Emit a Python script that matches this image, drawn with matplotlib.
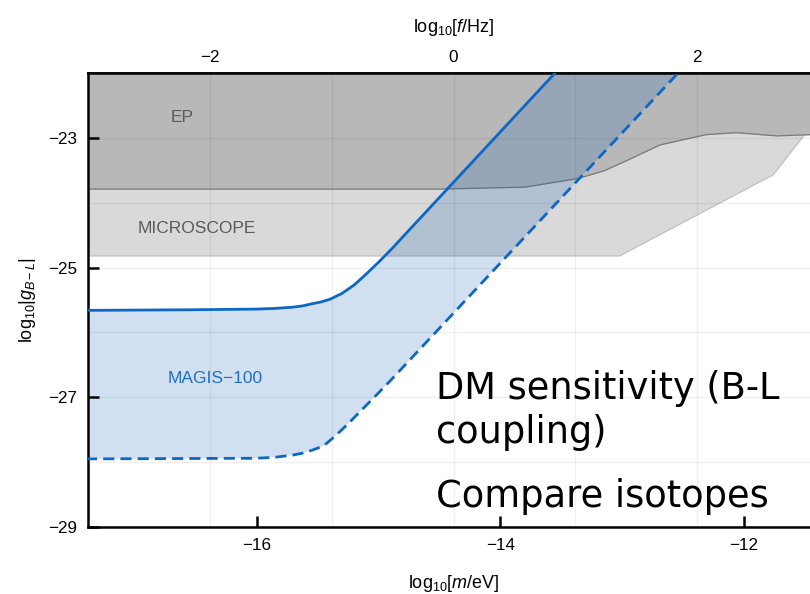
import numpy as np
import matplotlib
matplotlib.use('Agg')
import matplotlib.pyplot as plt

plt.rcParams['font.family'] = ['Liberation Sans', 'DejaVu Sans']
plt.rcParams['mathtext.fontset'] = 'custom'
plt.rcParams['mathtext.rm'] = 'Liberation Sans'
plt.rcParams['mathtext.it'] = 'Liberation Sans:italic'

# log10(f/Hz) = log10(m/eV) + log10(eV/h)
HZ_PER_EV = np.log10(2.418e14)

# EP bound (upper excluded region)
ep_m = [-17.4, -14.5, -13.8, -13.37, -13.15, -12.96, -12.69, -12.31, -12.06, -11.73, -11.3]
ep_g = [-23.79, -23.79, -23.76, -23.63, -23.51, -23.35, -23.11, -22.95, -22.92, -22.97, -22.94]

# MICROSCOPE bound
micro_m = [-17.4, -13.02, -11.76, -11.51, -11.3]
micro_g = [-24.82, -24.82, -23.57, -22.97, -22.4]

# MAGIS-100, solid (upper) curve
magis_m = [-17.4, -16.5, -16.0, -15.85, -15.7, -15.62, -15.55, -15.47, -15.4, -15.3,
           -15.2, -15.1, -15.0, -14.9, -13.55]
magis_g = [-25.66, -25.65, -25.64, -25.63, -25.61, -25.59, -25.56, -25.53, -25.49, -25.40,
           -25.27, -25.10, -24.92, -24.73, -22.0]

# MAGIS-100, dashed (lower) curve
dash_m = [-17.4, -16.0, -15.85, -15.7, -15.62, -15.55, -15.45, -15.35, -15.25, -15.15,
          -15.05, -14.9, -12.54]
dash_g = [-27.95, -27.94, -27.925, -27.89, -27.86, -27.82, -27.75, -27.59, -27.41, -27.22,
          -27.03, -26.74, -22.0]

x_ticks = [-16, -14, -12]
y_ticks = [-29, -27, -25, -23]
f_ticks = [-2, 0, 2]

blue = '#0c67c6'

fig = plt.figure(figsize=(8.1, 5.94), dpi=100)
# right spine sits just past the right edge of the picture
ax = fig.add_axes([88 / 810, 67 / 594, 731 / 810, 454 / 594])

ax.set_xlim(-3 - HZ_PER_EV, 3 - HZ_PER_EV)
ax.set_ylim(-29, -22)

# excluded regions
ax.fill_between(micro_m, micro_g, -22, color='#d9d9d9', lw=0, zorder=0.5)
ax.plot(micro_m, micro_g, color='#bdbdbd', lw=0.7, zorder=0.6)
ax.fill_between(ep_m, ep_g, -22, color='#b8b8b8', lw=0, zorder=0.7)
ax.plot(ep_m, ep_g, color='#7a7a7a', lw=0.9, zorder=0.8)

# MAGIS band, translucent on top of the grey
poly_m = magis_m + dash_m[::-1]
poly_g = magis_g + dash_g[::-1]
ax.fill(poly_m, poly_g, color='#0055b0', alpha=0.18, lw=0, zorder=1)

ax.plot(magis_m, magis_g, color=blue, lw=2.0, zorder=3)
ax.plot(dash_m, dash_g, color=blue, lw=2.0, ls=(0, (4, 2.2)), zorder=3)

ax.text(-16.61, -22.68, 'EP', color='#5a5a5a', fontsize=12.5, ha='center', va='center', zorder=4)
ax.text(-16.49, -24.39, 'MICROSCOPE', color='#5a5a5a', fontsize=12.5, ha='center', va='center', zorder=4)
ax.text(-16.34, -26.71, 'MAGIS\u2212100', color='#1f6fc5', fontsize=12.5, ha='center', va='center', zorder=4)

# ticks and grid
ax.set_xticks(x_ticks)
ax.set_yticks(y_ticks)
ax.set_xticks([f - HZ_PER_EV for f in range(-3, 4)], minor=True)
ax.set_yticks(range(-29, -21), minor=True)
ax.set_axisbelow('line')
ax.grid(which='minor', axis='x', color='black', alpha=0.06, lw=1.0)
ax.grid(which='both', axis='y', color='black', alpha=0.06, lw=1.0)
ax.tick_params(which='major', direction='in', length=8, width=1.8, labelsize=12.3, pad=8)
ax.tick_params(which='minor', length=0)
for s in ax.spines.values():
    s.set_linewidth(1.8)

sec = ax.secondary_xaxis('top', functions=(lambda m: m + HZ_PER_EV, lambda f: f - HZ_PER_EV))
sec.set_xticks(f_ticks)
sec.tick_params(direction='in', length=8, width=1.8, labelsize=12.3, pad=6)
sec.spines['top'].set_linewidth(1.8)
sec.set_xlabel('log$_{10}$[$f$/Hz]', fontsize=13, labelpad=13)

ax.set_xlabel('log$_{10}$[$m$/eV]', fontsize=13, labelpad=14)
ax.set_ylabel('log$_{10}$|$g_{B-L}$|', fontsize=13, labelpad=7)

# slide text
big = dict(fontsize=26.5, family='DejaVu Sans', color='black', va='baseline', ha='left')
fig.text(436 / 810, 1 - 399 / 594, 'DM sensitivity (B-L', **big)
fig.text(436 / 810, 1 - 443 / 594, 'coupling)', **big)
fig.text(436 / 810, 1 - 507 / 594, 'Compare isotopes', **big)

fig.savefig('out.png', dpi=100)
